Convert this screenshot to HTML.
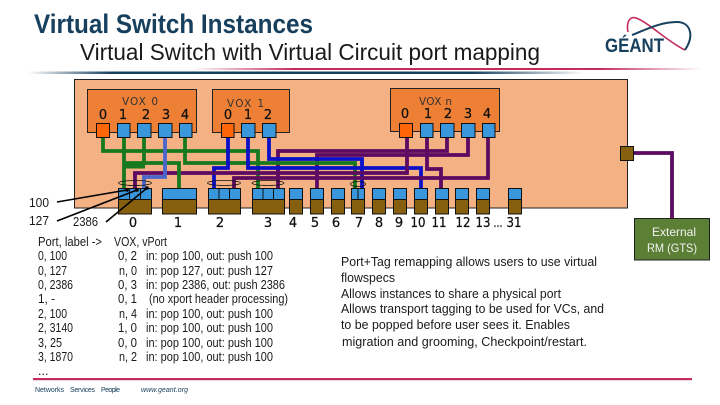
<!DOCTYPE html>
<html>
<head>
<meta charset="utf-8">
<style>
html,body{margin:0;padding:0;background:#fff;width:720px;height:405px;overflow:hidden}
svg{display:block}
text{font-family:"Liberation Sans",sans-serif;fill:#1a1a1a}
.d{font-family:"DejaVu Sans",sans-serif;fill:#333}
.n{font-size:13px;text-anchor:middle;font-family:"DejaVu Sans",sans-serif;fill:#111;stroke:#111;stroke-width:.25}
.t{font-size:12.5px}
.b{font-size:12.5px}
.w{fill:none;stroke-width:3.8}
.g{stroke:#17791f}.p{stroke:#5c0a62}.bl{stroke:#0a10c8}.lb{stroke:#4a66cc}
.vox{fill:#ee8035;stroke:#222;stroke-width:1}
.up{fill:#3b97dc;stroke:#111;stroke-width:1}
.op{fill:#ff6608;stroke:#111;stroke-width:1}
.br{fill:#86600f;stroke:#111;stroke-width:1}
.ov{fill:none;stroke:#111;stroke-width:.8}
</style>
</head>
<body>
<svg width="720" height="405" viewBox="0 0 720 405" xmlns="http://www.w3.org/2000/svg">
<defs>
<linearGradient id="tl" x1="0" x2="1" y1="0" y2="0"><stop offset="0" stop-color="#17405e" stop-opacity="0"/><stop offset=".15" stop-color="#17405e"/><stop offset=".8" stop-color="#17405e"/><stop offset="1" stop-color="#17405e" stop-opacity="0"/></linearGradient>
<linearGradient id="pl" x1="0" x2="1" y1="0" y2="0"><stop offset="0" stop-color="#c42c5c" stop-opacity="0"/><stop offset=".2" stop-color="#c42c5c"/><stop offset=".8" stop-color="#c42c5c"/><stop offset="1" stop-color="#c42c5c" stop-opacity="0"/></linearGradient>
</defs>

<text x="34" y="33" font-size="27" font-weight="bold" style="fill:#17405e" textLength="279" lengthAdjust="spacingAndGlyphs">Virtual Switch Instances</text>
<text x="80" y="60" font-size="23" style="fill:#1a1a1a" textLength="460" lengthAdjust="spacingAndGlyphs">Virtual Switch with Virtual Circuit port mapping</text>

<!-- logo -->
<path d="M628 32C626 22 630 16 636 18C648 22 668 42 685 50" fill="none" stroke="#c42c5c" stroke-width="1.6"/>
<path d="M632 35C645 30 660 22 677 22C690 22 695 35 685 50" fill="none" stroke="#17405e" stroke-width="2"/>
<text x="605" y="52" font-size="19" font-weight="bold" style="fill:#17405e" textLength="59" lengthAdjust="spacingAndGlyphs">GÉANT</text>

<rect x="193" y="68" width="509" height="2" fill="url(#pl)"/>
<rect x="28" y="71.5" width="556" height="2.5" fill="url(#tl)"/>

<!-- main panel -->
<rect x="74.500" y="79.500" width="553" height="128.500" fill="#f4b183" stroke="#222" stroke-width="1"/>

<rect class="vox" x="87.500" y="89.500" width="109" height="43"/>
<rect class="vox" x="212.500" y="89.500" width="77" height="43"/>
<rect class="vox" x="390.500" y="88.500" width="109" height="43"/>

<text class="d" x="122" y="105" font-size="10.500" textLength="36">VOX  0</text>
<text class="d" x="227" y="107" font-size="10.500" textLength="37">VOX  1</text>
<text class="d" x="419" y="105" font-size="10.500" textLength="33">VOX n</text>

<text class="n" x="103" y="119">0</text><text class="n" x="123" y="119">1</text><text class="n" x="146" y="119">2</text><text class="n" x="166" y="119">3</text><text class="n" x="185" y="119">4</text>
<text class="n" x="228" y="119">0</text><text class="n" x="248" y="119">1</text><text class="n" x="268" y="119">2</text>
<text class="n" x="405" y="118">0</text><text class="n" x="428" y="118">1</text><text class="n" x="448" y="118">2</text><text class="n" x="468" y="118">3</text><text class="n" x="487" y="118">4</text>

<!-- wires -->
<path class="w p" d="M278 188V151H447V138"/>
<path class="w p" d="M317 188V155H468V138"/>
<path class="w bl" d="M269 138V159H362V188"/>
<path class="w g" d="M103 138V151H258V188"/>
<path class="w g" d="M185 138V163H355V188"/>
<path class="w bl" d="M248 138V168H421V188"/>
<path class="w bl" d="M228 138V168H214V188"/>
<path class="w p" d="M135 188V173H407V138"/>
<path class="w p" d="M234 188V178H488V138"/>
<path class="w p" d="M427 138V169H441V188"/>
<path class="w g" d="M124 138V188"/>
<path class="w g" d="M144 138V165"/>
<path class="g" d="M124 165.500H145" fill="none" stroke-width="6"/>
<path class="w g" d="M125 163H179V188"/>
<path class="w lb" d="M165 138V177H144V188"/>

<!-- vox ports -->
<rect class="op" x="96.500" y="123.500" width="13" height="14"/>
<rect class="up" x="117.500" y="123.500" width="12.500" height="14"/>
<rect class="up" x="137.500" y="123.500" width="13.500" height="14"/>
<rect class="up" x="158.500" y="123.500" width="13.500" height="14"/>
<rect class="up" x="179.500" y="123.500" width="12.500" height="14"/>
<rect class="op" x="221.500" y="123.500" width="12.500" height="14"/>
<rect class="up" x="241.500" y="123.500" width="13.500" height="14"/>
<rect class="up" x="262.500" y="123.500" width="13.500" height="14"/>
<rect class="op" x="399.500" y="123.500" width="13" height="14"/>
<rect class="up" x="420.500" y="123.500" width="12.500" height="14"/>
<rect class="up" x="440.500" y="123.500" width="13.500" height="14"/>
<rect class="up" x="461.500" y="123.500" width="13.500" height="14"/>
<rect class="up" x="482.500" y="123.500" width="12.500" height="14"/>

<!-- physical ports -->
<g>
<rect class="up" x="118.500" y="188.500" width="33" height="11"/><rect class="br" x="118.500" y="199.500" width="33" height="14.500"/>
<path d="M129.500 188.500V199.500M140.500 188.500V199.500" stroke="#111" stroke-width="1"/>
<rect class="up" x="162.500" y="188.500" width="34" height="11"/><rect class="br" x="162.500" y="199.500" width="34" height="14.500"/>
<rect class="up" x="208.500" y="188.500" width="32" height="11"/><rect class="br" x="208.500" y="199.500" width="32" height="14.500"/>
<path d="M219 188.500V199.500M229.500 188.500V199.500" stroke="#111" stroke-width="1"/>
<rect class="up" x="252.500" y="188.500" width="32" height="11"/><rect class="br" x="252.500" y="199.500" width="32" height="14.500"/>
<path d="M263 188.500V199.500M273.500 188.500V199.500" stroke="#111" stroke-width="1"/>
<rect class="up" x="289.500" y="188.500" width="13" height="11"/><rect class="br" x="289.500" y="199.500" width="13" height="14.500"/>
<rect class="up" x="310.500" y="188.500" width="13" height="11"/><rect class="br" x="310.500" y="199.500" width="13" height="14.500"/>
<rect class="up" x="331.500" y="188.500" width="13" height="11"/><rect class="br" x="331.500" y="199.500" width="13" height="14.500"/>
<rect class="up" x="351.500" y="188.500" width="13" height="11"/><rect class="br" x="351.500" y="199.500" width="13" height="14.500"/>
<path d="M358 188.500V199.500" stroke="#111" stroke-width="1"/>
<rect class="up" x="372.500" y="188.500" width="13" height="11"/><rect class="br" x="372.500" y="199.500" width="13" height="14.500"/>
<rect class="up" x="393.500" y="188.500" width="13" height="11"/><rect class="br" x="393.500" y="199.500" width="13" height="14.500"/>
<rect class="up" x="414.500" y="188.500" width="13" height="11"/><rect class="br" x="414.500" y="199.500" width="13" height="14.500"/>
<rect class="up" x="435.500" y="188.500" width="13" height="11"/><rect class="br" x="435.500" y="199.500" width="13" height="14.500"/>
<rect class="up" x="455.500" y="188.500" width="13" height="11"/><rect class="br" x="455.500" y="199.500" width="13" height="14.500"/>
<rect class="up" x="476.500" y="188.500" width="13" height="11"/><rect class="br" x="476.500" y="199.500" width="13" height="14.500"/>
<rect class="up" x="508.500" y="188.500" width="13" height="11"/><rect class="br" x="508.500" y="199.500" width="13" height="14.500"/>
</g>

<!-- ovals -->
<ellipse class="ov" cx="135" cy="183" rx="16.500" ry="2.500"/>
<ellipse class="ov" cx="224" cy="183" rx="16.500" ry="2.500"/>
<ellipse class="ov" cx="268" cy="183" rx="16" ry="2.500"/>
<ellipse class="ov" cx="358" cy="184" rx="7.500" ry="2.500"/>

<!-- pointer lines -->
<path d="M57 202L127 190M57 221L137 190M106 222L147 188" stroke="#000" stroke-width="1.600" fill="none"/>
<circle cx="127" cy="190" r="1.800"/><circle cx="137" cy="190" r="1.800"/><circle cx="147" cy="188" r="1.800"/>

<!-- external -->
<path class="w p" d="M634 153H672V218"/>
<rect class="br" x="620.500" y="146.500" width="13" height="14"/>
<rect x="634.500" y="218.500" width="75" height="41.500" fill="#5b7f35" stroke="#222" stroke-width="1"/>
<text x="652" y="236" font-size="12" style="fill:#f2f2f2" textLength="44" lengthAdjust="spacingAndGlyphs">External</text>
<text x="647" y="252" font-size="12" style="fill:#f2f2f2" textLength="50" lengthAdjust="spacingAndGlyphs">RM (GTS)</text>

<!-- port numbers -->
<text class="n" x="133" y="227">0</text><text class="n" x="178" y="227">1</text><text class="n" x="220" y="227">2</text><text class="n" x="268" y="227">3</text><text class="n" x="293" y="227">4</text><text class="n" x="315" y="227">5</text><text class="n" x="336" y="227">6</text><text class="n" x="359" y="227">7</text><text class="n" x="379" y="227">8</text><text class="n" x="399" y="227">9</text><text class="n" x="418" y="227" textLength="15" lengthAdjust="spacingAndGlyphs">10</text><text class="n" x="439" y="227" textLength="15" lengthAdjust="spacingAndGlyphs">11</text><text class="n" x="463" y="227" textLength="15" lengthAdjust="spacingAndGlyphs">12</text><text class="n" x="483" y="227" textLength="15" lengthAdjust="spacingAndGlyphs">13</text><text class="n" x="498" y="227" textLength="9" lengthAdjust="spacingAndGlyphs">...</text><text class="n" x="514" y="227" textLength="15" lengthAdjust="spacingAndGlyphs">31</text>

<text class="t" x="29" y="207" textLength="20" lengthAdjust="spacingAndGlyphs">100</text>
<text class="t" x="29" y="225" textLength="20" lengthAdjust="spacingAndGlyphs">127</text>
<text class="t" x="73" y="226" textLength="25" lengthAdjust="spacingAndGlyphs">2386</text>

<!-- table -->
<g>
<text class="t" x="38" y="246" textLength="64" lengthAdjust="spacingAndGlyphs">Port, label -&gt;</text><text class="t" x="114" y="246" textLength="53" lengthAdjust="spacingAndGlyphs">VOX, vPort</text>
<text class="t" x="38" y="260" textLength="29" lengthAdjust="spacingAndGlyphs">0, 100</text><text class="t" x="118" y="260" textLength="19" lengthAdjust="spacingAndGlyphs">0, 2</text><text class="t" x="146" y="260" textLength="127" lengthAdjust="spacingAndGlyphs">in: pop 100, out: push 100</text>
<text class="t" x="38" y="275" textLength="29" lengthAdjust="spacingAndGlyphs">0, 127</text><text class="t" x="119" y="275" textLength="18" lengthAdjust="spacingAndGlyphs">n, 0</text><text class="t" x="146" y="275" textLength="127" lengthAdjust="spacingAndGlyphs">in: pop 127, out: push 127</text>
<text class="t" x="38" y="289" textLength="35" lengthAdjust="spacingAndGlyphs">0, 2386</text><text class="t" x="118" y="289" textLength="19" lengthAdjust="spacingAndGlyphs">0, 3</text><text class="t" x="146" y="289" textLength="139" lengthAdjust="spacingAndGlyphs">in: pop 2386, out: push 2386</text>
<text class="t" x="38" y="303" textLength="17" lengthAdjust="spacingAndGlyphs">1, -</text><text class="t" x="118" y="303" textLength="19" lengthAdjust="spacingAndGlyphs">0, 1</text><text class="t" x="149" y="303" textLength="139" lengthAdjust="spacingAndGlyphs">(no xport header processing)</text>
<text class="t" x="38" y="318" textLength="29" lengthAdjust="spacingAndGlyphs">2, 100</text><text class="t" x="119" y="318" textLength="18" lengthAdjust="spacingAndGlyphs">n, 4</text><text class="t" x="146" y="318" textLength="127" lengthAdjust="spacingAndGlyphs">in: pop 100, out: push 100</text>
<text class="t" x="38" y="332" textLength="35" lengthAdjust="spacingAndGlyphs">2, 3140</text><text class="t" x="118" y="332" textLength="19" lengthAdjust="spacingAndGlyphs">1, 0</text><text class="t" x="146" y="332" textLength="127" lengthAdjust="spacingAndGlyphs">in: pop 100, out: push 100</text>
<text class="t" x="38" y="347" textLength="24" lengthAdjust="spacingAndGlyphs">3, 25</text><text class="t" x="118" y="347" textLength="19" lengthAdjust="spacingAndGlyphs">0, 0</text><text class="t" x="146" y="347" textLength="127" lengthAdjust="spacingAndGlyphs">in: pop 100, out: push 100</text>
<text class="t" x="38" y="361" textLength="35" lengthAdjust="spacingAndGlyphs">3, 1870</text><text class="t" x="119" y="361" textLength="18" lengthAdjust="spacingAndGlyphs">n, 2</text><text class="t" x="146" y="361" textLength="127" lengthAdjust="spacingAndGlyphs">in: pop 100, out: push 100</text>
<text class="t" x="38" y="375">...</text>
</g>

<!-- right text -->
<text class="b" x="341" y="266" textLength="256" lengthAdjust="spacingAndGlyphs">Port+Tag remapping allows users to use virtual</text>
<text class="b" x="341" y="282" textLength="54" lengthAdjust="spacingAndGlyphs">flowspecs</text>
<text class="b" x="341" y="298" textLength="220" lengthAdjust="spacingAndGlyphs">Allows instances to share a physical port</text>
<text class="b" x="341" y="313" textLength="263" lengthAdjust="spacingAndGlyphs">Allows transport tagging to be used for VCs, and</text>
<text class="b" x="341" y="329" textLength="229" lengthAdjust="spacingAndGlyphs">to be popped before user sees it.  Enables</text>
<text class="b" x="342" y="346" textLength="245" lengthAdjust="spacingAndGlyphs">migration and grooming, Checkpoint/restart.</text>

<!-- footer -->
<rect x="33" y="378" width="659" height="2.200" fill="#c42c5c"/>
<text x="35" y="392" font-size="7" style="fill:#17405e" textLength="29">Networks</text>
<text x="70" y="392" font-size="7" style="fill:#17405e" textLength="25">Services</text>
<text x="101" y="392" font-size="7" style="fill:#17405e" textLength="19">People</text>
<text x="141" y="392" font-size="7" font-style="italic" style="fill:#17405e" textLength="47">www.geant.org</text>
</svg>
</body>
</html>
